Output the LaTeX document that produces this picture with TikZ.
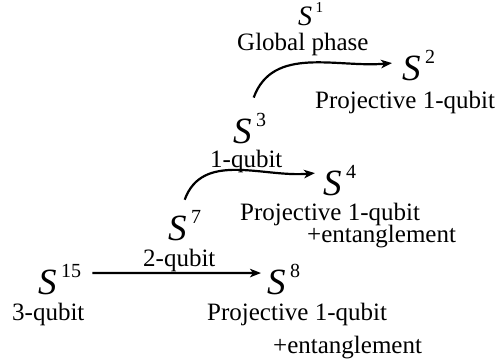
\documentclass[tikz,border=0pt]{standalone}
\usepackage{fontspec}
\setmainfont{Liberation Serif}
\usetikzlibrary{arrows.meta}
\newcommand{\Sg}[1]{{\fontsize{37}{37}\selectfont\itshape S}\kern4.5pt\raisebox{17pt}{\fontsize{20}{20}\selectfont #1}}

\begin{document}
\begin{tikzpicture}[x=1pt,y=1pt,
    snode/.style={inner sep=0pt,anchor=base west},
    lbl/.style={inner sep=0pt,anchor=base west,font=\fontsize{25}{25}\selectfont},
    arw/.style={line width=2.2pt,-{Stealth[length=11pt,width=8.5pt,inset=3pt]}}]
    \useasboundingbox (0,0) rectangle (496,-360);
    \node[snode] (s1) at (298,-25) {\scalebox{0.76}{\Sg{1}}};
    \node[lbl] (l1) at (237,-50) {Global phase};
    \node[snode] (s2) at (402,-80) {\Sg{2}};
    \node[lbl] (l2) at (315,-108) {Projective 1-qubit};
    \node[snode] (s3) at (233,-143) {\Sg{3}};
    \node[lbl] (l3) at (210,-167) {1-qubit};
    \node[snode] (s4) at (323,-195) {\Sg{4}};
    \node[lbl] (l4a) at (240,-220) {Projective 1-qubit};
    \node[lbl] (l4b) at (307,-242) {+entanglement};
    \node[snode] (s7) at (168,-240) {\Sg{7}};
    \node[lbl] (l7) at (143,-266) {2-qubit};
    \node[snode] (s15) at (38,-294) {\Sg{15}};
    \node[lbl] (l15) at (12,-320) {3-qubit};
    \node[snode] (s8) at (267,-294) {\Sg{8}};
    \node[lbl] (l8a) at (207,-320) {Projective 1-qubit};
    \node[lbl] (l8b) at (273,-353) {+entanglement};
    \draw[arw] ([shift={(11,6)}]s15.east) -- ([shift={(-6,6)}]s8.west);
    \draw[arw] ([yshift=10pt]s7.north) to[out=70,in=185] ([shift={(-8,7)}]s4.west);
    \draw[arw] ([shift={(4,15)}]s3.north) to[out=70,in=185] ([shift={(-10,2)}]s2.west);
\end{tikzpicture}
\end{document}
